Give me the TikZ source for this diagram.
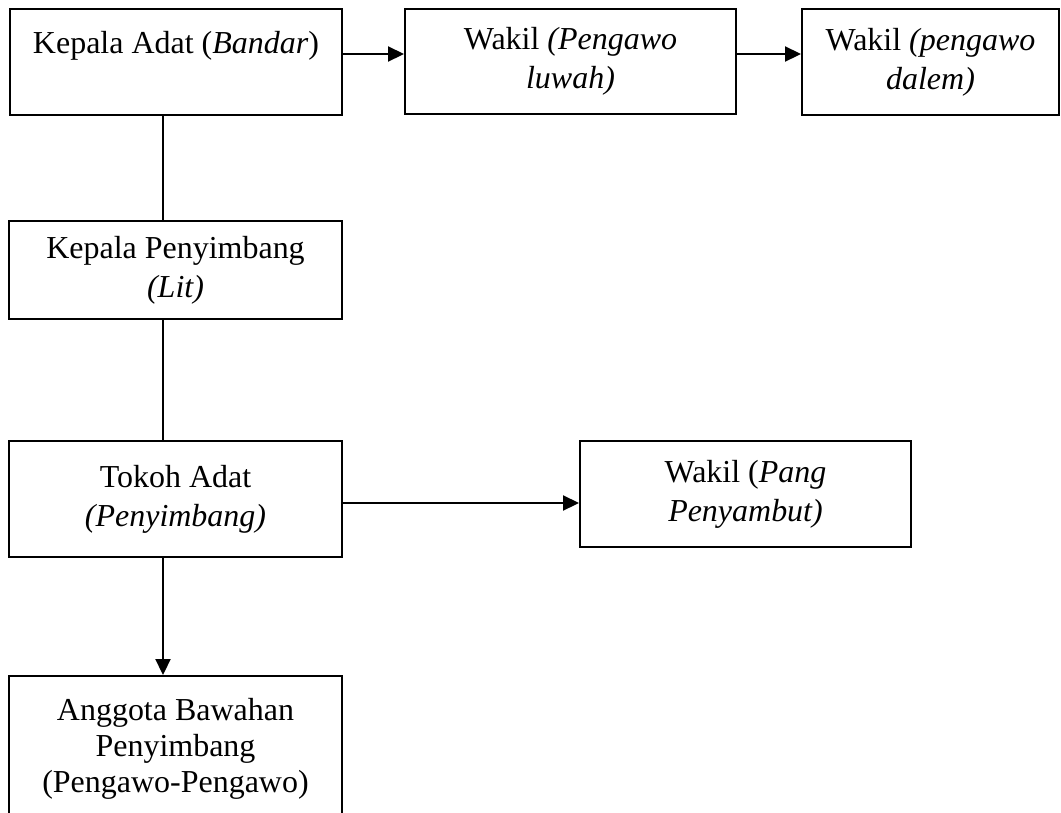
\documentclass[tikz,border=0pt]{standalone}
\usepackage{fontspec}
\setmainfont{Liberation Serif}
\usetikzlibrary{arrows.meta}

\begin{document}
\begin{tikzpicture}[x=0.02cm,y=-0.02cm,
    box/.style={draw,line width=1.1pt,align=center,inner sep=0pt,
                font=\fontsize{18.2}{22.2}\selectfont},
    arr/.style={line width=1.1pt,-{Triangle[length=0.32cm,width=0.3cm]}},
    conn/.style={line width=1.1pt}]
    \useasboundingbox (0,0) rectangle (1061,812);

             \node[box,minimum width=0.02cm*332,minimum height=0.02cm*106] (bandar) at(176,62)
                  {Kepala Adat (\textit{Bandar})\\ ~};
             \node[box,minimum width=0.02cm*331,minimum height=0.02cm*105] (luwah) at(570.5,61.5)
                  {Wakil \textit{(Pengawo}\\ \textit{luwah)}};
             \node[box,minimum width=0.02cm*257,minimum height=0.02cm*106] (dalem) at(930.5,62)
                  {Wakil \textit{(pengawo}\\ \textit{dalem)}};

             \node[box,minimum width=0.02cm*333,minimum height=0.02cm*98] (lit) at(175.5,270)
                  {Kepala Penyimbang\\ \textit{(Lit)}};
             \node[box,minimum width=0.02cm*333,minimum height=0.02cm*116] (penyimbang) at(175.5,499)
                  {Tokoh Adat\\ \textit{(Penyimbang)}};
             \node[box,minimum width=0.02cm*331,minimum height=0.02cm*106] (pang) at(745.5,494)
                  {Wakil (\textit{Pang}\\ \textit{Penyambut)}};
             \node[box,minimum width=0.02cm*333,minimum height=0.02cm*146,
                   font=\fontsize{18.2}{20.6}\selectfont] (anggota) at(175.5,749)
                  {Anggota Bawahan\\ Penyimbang\\ (Pengawo-Pengawo)};

             % garis ke kanan
             \draw[arr] ([yshift=0.16cm]bandar.east) -- ([yshift=0.16cm]bandar.east -| luwah.west);
             \draw[arr] ([yshift=0.15cm]luwah.east) -- ([yshift=0.15cm]luwah.east -| dalem.west);
             \draw[arr] ([yshift=-0.08cm]penyimbang.east) -- ([yshift=-0.08cm]penyimbang.east -| pang.west);

             % garis ke bawah
             \draw[conn] ([xshift=-0.25cm]lit.north |- bandar.south) -- ([xshift=-0.25cm]lit.north);
             \draw[conn] ([xshift=-0.25cm]lit.south) -- ([xshift=-0.25cm]lit.south |- penyimbang.north);
             \draw[arr] ([xshift=-0.25cm]penyimbang.south) -- ([xshift=-0.25cm]penyimbang.south |- anggota.north);
\end{tikzpicture}
\end{document}
